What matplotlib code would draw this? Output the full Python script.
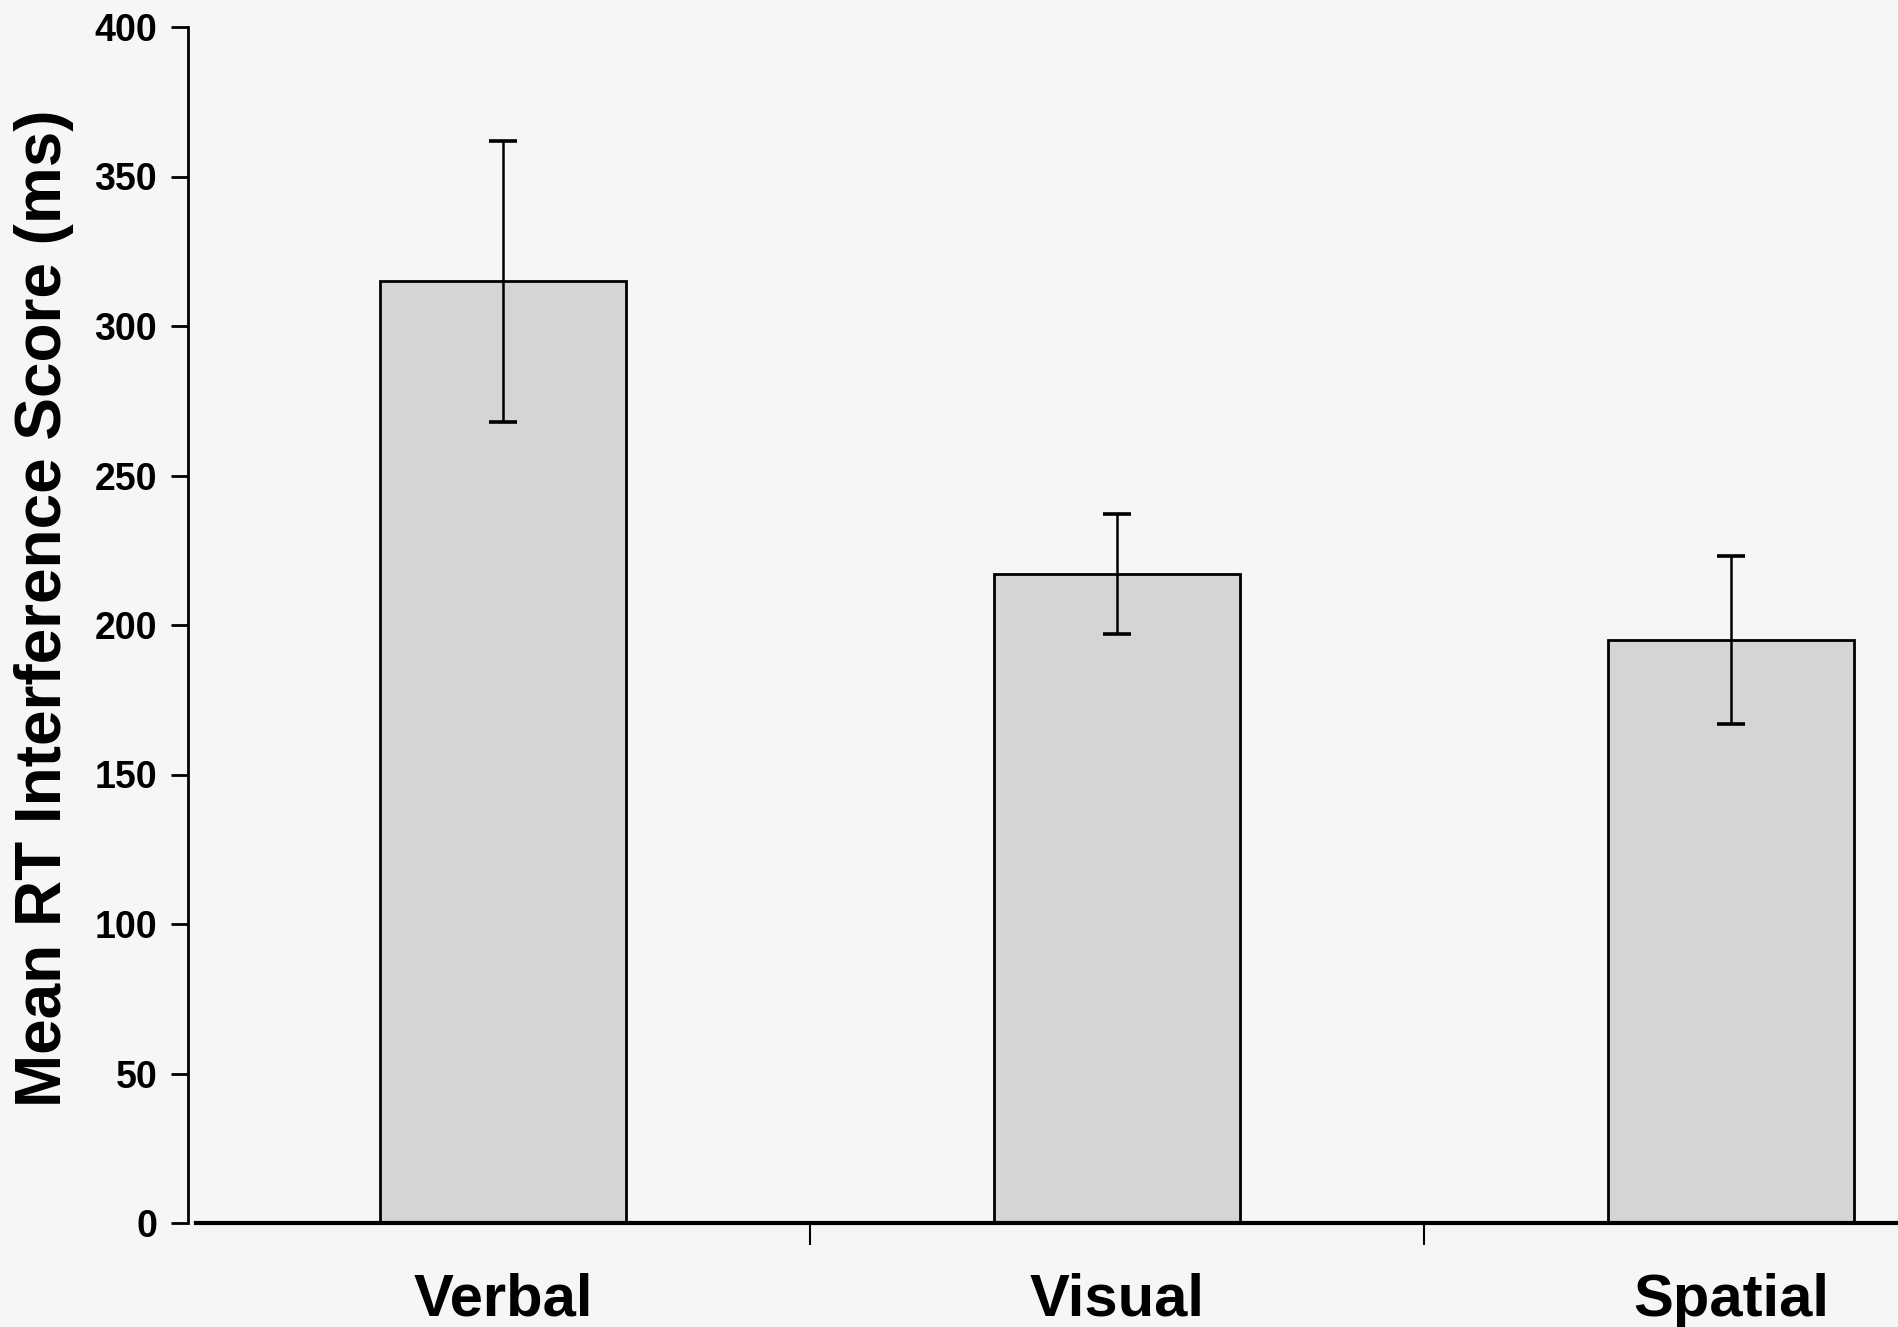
import matplotlib
matplotlib.use("Agg")
import matplotlib.pyplot as plt
import numpy as np

categories = ["Verbal", "Visual", "Spatial"]
means = [315, 217, 195]
errors = [47, 20, 28]
yticks = [0, 50, 100, 150, 200, 250, 300, 350, 400]

plt.rcParams['font.family'] = ['Liberation Sans', 'DejaVu Sans']

fig = plt.figure(figsize=(18.99, 13.27), dpi=100, facecolor='#f6f6f4')
ax = fig.add_axes([196/1899, (1327-1223)/1327, 1842/1899, (1223-27)/1327])
ax.set_facecolor('#f6f6f4')

for s in ['top', 'right']:
    ax.spines[s].set_visible(False)
ax.spines['left'].set_position(('outward', 6))
ax.spines['left'].set_linewidth(2.0)
ax.spines['bottom'].set_linewidth(3.0)

x = np.arange(len(categories))
ax.bar(x, means, width=0.4, color='#d6d4d4', edgecolor='black', linewidth=2.0, zorder=2)
ax.errorbar(x, means, yerr=errors, fmt='none', ecolor='black', elinewidth=1.8,
            capsize=10, capthick=2.6, zorder=3)

ax.set_xlim(-0.5, 2.5)
ax.set_ylim(0, 400)
ax.set_yticks(yticks)
ax.set_yticklabels([str(v) for v in yticks], fontsize=27, fontweight='bold')
ax.set_xticks([0.5, 1.5])
ax.set_xticklabels([])
ax.set_xticks(x, minor=True)
ax.set_xticklabels(categories, minor=True, fontsize=43, fontweight='bold')
ax.tick_params(axis='x', which='minor', length=0, pad=36)
ax.tick_params(axis='x', which='major', direction='out', length=16, width=1.5)
ax.tick_params(axis='y', direction='out', length=12, width=2.0, pad=10)

ax.set_ylabel("Mean RT Interference Score (ms)", fontsize=46, fontweight='bold')
ax.yaxis.set_label_coords(-0.066, 0.514)

fig.savefig("out.png", dpi=100, facecolor=fig.get_facecolor())
